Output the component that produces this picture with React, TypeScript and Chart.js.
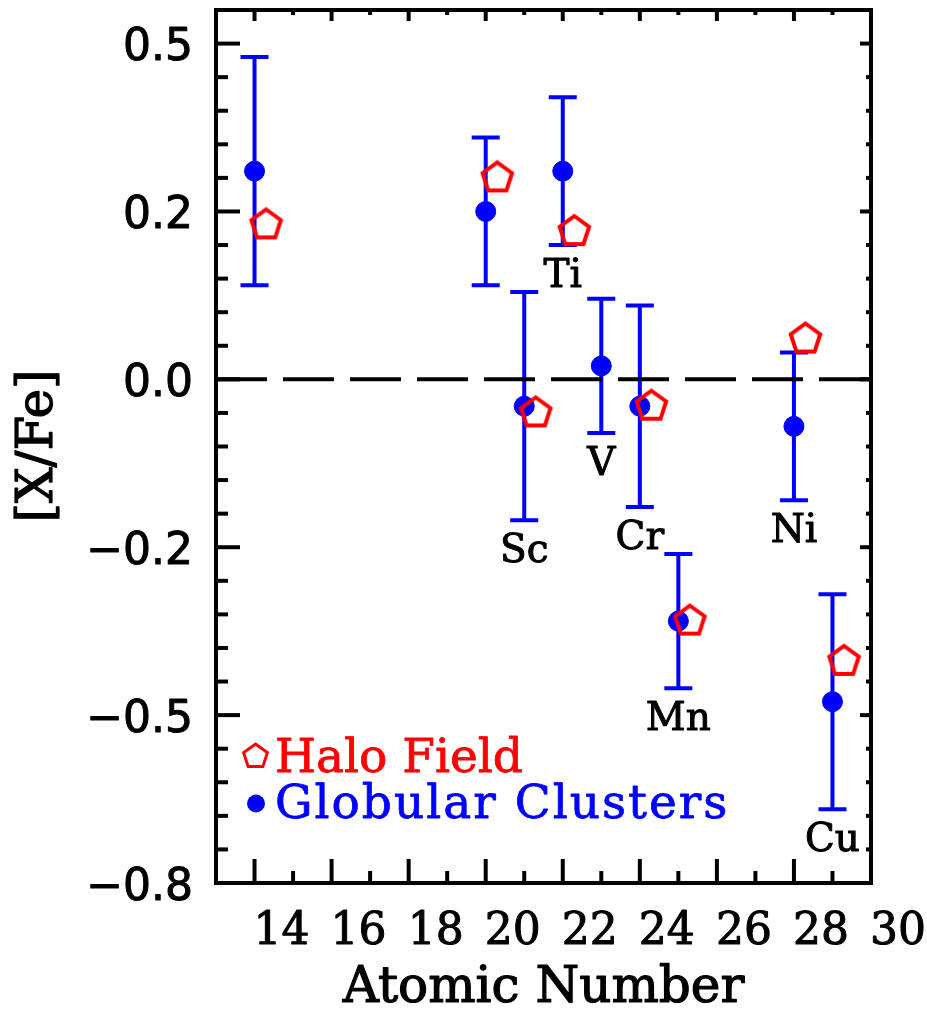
import React, { useEffect, useRef } from "react";
import { Chart, registerables } from "chart.js";

Chart.register(...registerables);

// ---- data ----
const gcZ = [14, 20, 21, 22, 23, 24, 25, 28, 29];
const gcValue = [0.31, 0.25, -0.04, 0.31, 0.02, -0.04, -0.36, -0.07, -0.48];
const gcError = [0.17, 0.11, 0.17, 0.11, 0.1, 0.15, 0.1, 0.11, 0.16];
const gcLabels: (string | null)[] = [null, null, "Sc", "Ti", "V", "Cr", "Mn", "Ni", "Cu"];

const haloZ = [14.3, 20.3, 21.3, 22.3, 24.3, 25.3, 28.3, 29.3];
const haloValue = [0.23, 0.3, -0.05, 0.22, -0.04, -0.36, 0.06, -0.42];

const xRange = [13, 30];
const yRange = [-0.75, 0.55];
const xTicks = [14, 16, 18, 20, 22, 24, 26, 28, 30];
const xTickLabels = ["14", "16", "18", "20", "22", "24", "26", "28", "30"];
const yTicks = [0.5, 0.25, 0, -0.25, -0.5, -0.75];
const yTickLabels = ["0.5", "0.2", "0.0", "\u22120.2", "\u22120.5", "\u22120.8"];
const xMinorPerMajor = 2;
const yMinorPerMajor = 5;

const xTitle = "Atomic Number";
const yTitle = "[X/Fe]";
const legendHalo = "Halo Field";
const legendGC = "Globular Clusters";

const RED = "#ff0000";
const BLUE = "#0000ff";

function pentagonPath(ctx: CanvasRenderingContext2D, cx: number, cy: number, r: number) {
  ctx.beginPath();
  for (let k = 0; k < 5; k++) {
    const a = -Math.PI / 2 + (k * 2 * Math.PI) / 5;
    const px = cx + r * Math.cos(a);
    const py = cy + r * Math.sin(a);
    if (k === 0) ctx.moveTo(px, py);
    else ctx.lineTo(px, py);
  }
  ctx.closePath();
}

function makePentagon(r: number, lw: number): HTMLCanvasElement {
  const size = Math.ceil(2 * (r + lw + 2));
  const c = document.createElement("canvas");
  c.width = size;
  c.height = size;
  const ctx = c.getContext("2d")!;
  ctx.strokeStyle = RED;
  ctx.lineWidth = lw;
  ctx.lineJoin = "miter";
  pentagonPath(ctx, size / 2, size / 2, r);
  ctx.stroke();
  return c;
}

function boldText(ctx: CanvasRenderingContext2D, s: string, x: number, y: number, color: string, w = 1) {
  ctx.fillStyle = color;
  ctx.strokeStyle = color;
  ctx.lineWidth = w;
  ctx.lineJoin = "round";
  ctx.fillText(s, x, y);
  ctx.strokeText(s, x, y);
}

const decorPlugin = {
  id: "decor",
  beforeDatasetsDraw(chart: any) {
    const ctx: CanvasRenderingContext2D = chart.ctx;
    const xs = chart.scales.x;
    const ys = chart.scales.y;
    ctx.save();
    ctx.strokeStyle = BLUE;
    ctx.lineWidth = 4;
    ctx.lineCap = "butt";
    for (let i = 0; i < gcZ.length; i++) {
      const x = xs.getPixelForValue(gcZ[i]);
      const yt = ys.getPixelForValue(gcValue[i] + gcError[i]);
      const yb = ys.getPixelForValue(gcValue[i] - gcError[i]);
      ctx.beginPath();
      ctx.moveTo(x, yt);
      ctx.lineTo(x, yb);
      ctx.moveTo(x - 14, yt);
      ctx.lineTo(x + 14, yt);
      ctx.moveTo(x - 14, yb);
      ctx.lineTo(x + 14, yb);
      ctx.stroke();
    }
    ctx.restore();
  },
  afterDraw(chart: any) {
    const ctx: CanvasRenderingContext2D = chart.ctx;
    const xs = chart.scales.x;
    const ys = chart.scales.y;
    const { left, right, top, bottom } = chart.chartArea;
    ctx.save();

    // axes box
    ctx.strokeStyle = "#000";
    ctx.lineWidth = 4;
    ctx.lineCap = "butt";
    ctx.strokeRect(left, top, right - left, bottom - top);

    // ticks
    const tick = (x1: number, y1: number, x2: number, y2: number) => {
      ctx.beginPath();
      ctx.moveTo(x1, y1);
      ctx.lineTo(x2, y2);
      ctx.stroke();
    };
    const xt = xs.ticks.map((t: any) => t.value);
    const xStep = xt[1] - xt[0];
    for (let v = xt[0] - xStep; v <= xt[xt.length - 1] + xStep; v += xStep / xMinorPerMajor) {
      if (v <= xs.min + 1e-9 || v >= xs.max - 1e-9) continue;
      const px = xs.getPixelForValue(v);
      const isMajor = xt.some((m: number) => Math.abs(m - v) < 1e-9);
      tick(px, bottom, px, bottom - (isMajor ? 24 : 12));
      tick(px, top, px, top + (isMajor ? 11 : 5));
    }
    const yt = ys.ticks.map((t: any) => t.value);
    const yStep = Math.abs(yt[1] - yt[0]);
    const yLo = Math.min(...yt);
    const yHi = Math.max(...yt);
    for (let v = yLo - yStep; v <= yHi + yStep + 1e-9; v += yStep / yMinorPerMajor) {
      if (v <= ys.min + 1e-9 || v >= ys.max - 1e-9) continue;
      const py = ys.getPixelForValue(v);
      const isMajor = yt.some((m: number) => Math.abs(m - v) < 1e-9);
      tick(left, py, left + (isMajor ? 24 : 12), py);
      tick(right, py, right - (isMajor ? 11 : 5), py);
    }

    // tick labels
    ctx.font = "44px 'DejaVu Serif'";
    ctx.textAlign = "center";
    ctx.textBaseline = "alphabetic";
    xs.ticks.forEach((t: any, i: number) => {
      const px = xs.getPixelForValue(t.value);
      boldText(ctx, xTickLabels[i], px + 27, 944, "#000", 1);
    });
    ctx.font = "44px 'DejaVu Sans'";
    ctx.textAlign = "right";
    ys.ticks.forEach((t: any, i: number) => {
      const py = ys.getPixelForValue(t.value);
      boldText(ctx, yTickLabels[i], 193, py + 16.5, "#000", 1);
    });

    // titles
    ctx.font = "50px 'DejaVu Serif'";
    ctx.textAlign = "center";
    boldText(ctx, xTitle, (left + right) / 2, 1002, "#000", 1.2);
    ctx.save();
    ctx.translate(52, 446);
    ctx.rotate(-Math.PI / 2);
    boldText(ctx, yTitle, 0, 0, "#000", 1.2);
    ctx.restore();

    // element labels
    ctx.font = "39px 'DejaVu Serif'";
    ctx.textAlign = "center";
    gcLabels.forEach((lab, i) => {
      if (!lab) return;
      const px = xs.getPixelForValue(gcZ[i]);
      const py = ys.getPixelForValue(gcValue[i] - gcError[i]);
      boldText(ctx, lab, px, py + 42, "#000", 1);
    });

    // legend
    ctx.strokeStyle = RED;
    ctx.lineWidth = 3;
    ctx.lineJoin = "miter";
    pentagonPath(ctx, 255.5, 756.5, 12.5);
    ctx.stroke();
    ctx.fillStyle = BLUE;
    ctx.beginPath();
    ctx.arc(256, 803.5, 9, 0, Math.PI * 2);
    ctx.fill();
    ctx.font = "47px 'DejaVu Serif'";
    ctx.textAlign = "left";
    boldText(ctx, legendHalo, 275, 772, RED, 0.8);
    (ctx as any).letterSpacing = "2px";
    boldText(ctx, legendGC, 275, 818, BLUE, 0.8);
    (ctx as any).letterSpacing = "0px";

    ctx.restore();
  },
};

export default function App() {
  const ref = useRef<HTMLCanvasElement | null>(null);
  useEffect(() => {
    if (!ref.current) return;
    const pent = makePentagon(15.5, 4);
    const chart = new Chart(ref.current, {
      type: "scatter",
      data: {
        datasets: [
          {
            label: "Halo Field",
            data: haloZ.map((z, i) => ({ x: z, y: haloValue[i] })),
            pointStyle: pent as any,
            pointRadius: 18,
            backgroundColor: "rgba(0,0,0,0)",
            borderColor: RED,
          },
          {
            label: "Globular Clusters",
            data: gcZ.map((z, i) => ({ x: z, y: gcValue[i] })),
            pointStyle: "circle",
            pointRadius: 10,
            borderWidth: 1,
            backgroundColor: BLUE,
            borderColor: BLUE,
          },
          {
            label: "zero",
            data: [
              { x: xRange[0], y: 0 },
              { x: xRange[1], y: 0 },
            ],
            showLine: true,
            borderColor: "#000",
            borderWidth: 4,
            borderDash: [51, 16],
            pointRadius: 0,
          } as any,
        ],
      },
      options: {
        responsive: false,
        animation: false,
        devicePixelRatio: 1,
        events: [],
        layout: { autoPadding: false, padding: { left: 0, top: 10, right: 56, bottom: 0 } },
        plugins: { legend: { display: false }, tooltip: { enabled: false } },
        scales: {
          x: {
            type: "linear",
            min: xRange[0],
            max: xRange[1],
            grid: { display: false, drawTicks: false },
            border: { display: false },
            ticks: { display: false },
            afterBuildTicks: (s: any) => {
              s.ticks = xTicks.map((v) => ({ value: v }));
            },
            afterFit: (s: any) => {
              s.height = 126;
            },
          },
          y: {
            type: "linear",
            min: yRange[0],
            max: yRange[1],
            grid: { display: false, drawTicks: false },
            border: { display: false },
            ticks: { display: false },
            afterBuildTicks: (s: any) => {
              s.ticks = yTicks.map((v) => ({ value: v }));
            },
            afterFit: (s: any) => {
              s.width = 216;
            },
          },
        },
      },
      plugins: [decorPlugin],
    });
    return () => chart.destroy();
  }, []);
  return (
    <div style={{ position: "fixed", left: 0, top: 0, width: 927, height: 1009, background: "#fff" }}>
      <canvas ref={ref} width={927} height={1009} style={{ display: "block" }} />
    </div>
  );
}
